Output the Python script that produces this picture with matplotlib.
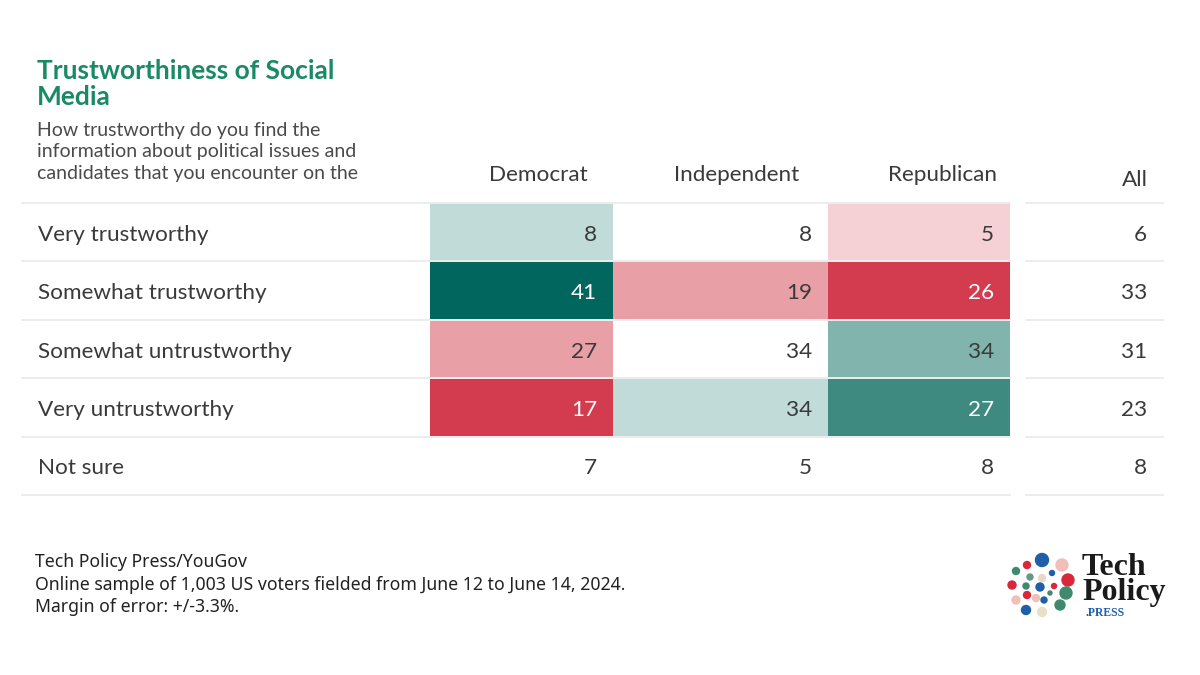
import matplotlib.pyplot as plt
from matplotlib.patches import Circle

# Data
rows = ['Very trustworthy', 'Somewhat trustworthy', 'Somewhat untrustworthy',
        'Very untrustworthy', 'Not sure']
parties = ['Democrat', 'Independent', 'Republican']
democrat = [8, 41, 27, 17, 7]
independent = [8, 19, 34, 34, 5]
republican = [5, 26, 34, 27, 8]
all_voters = [6, 33, 31, 23, 8]

# cell shading (relative to All), one entry per row
shade_dem = ['lteal', 'dteal', 'lpink', 'red', None]
shade_ind = [None, 'lpink', None, 'lteal', None]
shade_rep = ['ppink', 'red', 'mteal', 'teal', None]

palette = {
    'lteal': '#c0dbd8', 'mteal': '#80b4ad', 'teal': '#3f8a80', 'dteal': '#00665e',
    'ppink': '#f5d0d5', 'lpink': '#e8a0a6', 'red': '#d33c4e',
}
white_text = {'dteal', 'teal', 'red'}

title = 'Trustworthiness of Social\nMedia'
subtitle = ('How trustworthy do you find the\n'
            'information about political issues and\n'
            'candidates that you encounter on the')
footer = ('Tech Policy Press/YouGov\n'
          'Online sample of 1,003 US voters fielded from June 12 to June 14, 2024.\n'
          'Margin of error: +/-3.3%.')

# Layout (pixels)
TXT = '#3a3a3a'
GREEN = '#1a8a64'
col_left = [430, 613, 828]
col_width = [183, 215, 182]
head_x = [538, 737, 943]
top = 203
row_h = 58.4
FS = 16.2

fig = plt.figure(figsize=(12, 6.75), dpi=100)
ax = fig.add_axes([0, 0, 1, 1])
ax.set_xlim(0, 1200)
ax.set_ylim(675, 0)
ax.axis('off')

ax.text(37, 59, title, color=GREEN, fontsize=19, fontfamily='Lato',
        fontweight='bold', va='top', linespacing=1.12)
ax.text(37, 122, subtitle, color='#4a4a4a', fontsize=14, fontfamily='Lato',
        va='top', linespacing=1.32)

# grid lines
for i in range(len(rows) + 1):
    y = top + i * row_h
    ax.plot([22, 1010], [y, y], color='#e9e9e9', lw=1.2, zorder=1)
    ax.plot([1026, 1163], [y, y], color='#e9e9e9', lw=1.2, zorder=1)

centers = [top + row_h * (i + 0.5) for i in range(len(rows))]

for j, (vals, shades) in enumerate(zip([democrat, independent, republican],
                                       [shade_dem, shade_ind, shade_rep])):
    colors = [palette[s] if s else 'none' for s in shades]
    ax.barh(centers, col_width[j], left=col_left[j], height=row_h - 2,
            color=colors, zorder=2)
    ax.text(head_x[j], 175, parties[j], ha='center', va='center', fontsize=FS,
            color=TXT, fontfamily='Lato')
    for y, v, s in zip(centers, vals, shades):
        c = 'white' if s in white_text else TXT
        ax.text(col_left[j] + col_width[j] - 16, y + 2.5, str(v), ha='right',
                va='center', fontsize=FS, color=c, fontfamily='Lato', zorder=3)

ax.text(1148, 180, 'All', ha='right', va='center', fontsize=FS, color=TXT,
        fontfamily='Lato')
for y, v, lab in zip(centers, all_voters, rows):
    ax.text(1147, y + 2.5, str(v), ha='right', va='center', fontsize=FS, color=TXT,
            fontfamily='Lato')
    ax.text(38, y + 2.5, lab, ha='left', va='center', fontsize=FS, color=TXT,
            fontfamily='Lato')

ax.text(35, 553, footer, color='#222222', fontsize=12.7, fontfamily='Noto Sans',
        va='top', linespacing=1.33)

# logo
dots = [(1042, 560, 6.5, '#1f5fa8'), (1062, 565, 6, '#f0c0b8'), (1027, 565, 3.5, '#d8283a'),
        (1016, 571, 3.5, '#3f8a6e'), (1030, 577, 3, '#5f9a88'), (1042, 578, 3.5, '#e8d8c8'),
        (1052, 573, 2.5, '#1f5fa8'), (1068, 580, 6, '#d8283a'), (1012, 585, 4, '#d8283a'),
        (1026, 586, 3, '#3f8a6e'), (1040, 587, 4, '#1f5fa8'), (1054, 586, 2.5, '#d8283a'),
        (1027, 595, 3.5, '#d8283a'), (1050, 593, 2, '#3f8a6e'), (1066, 593, 6, '#3f8a6e'),
        (1036, 598, 3.5, '#f0c0b8'), (1016, 600, 4, '#f0c0b8'), (1044, 600, 3, '#1f5fa8'),
        (1060, 605, 5, '#3f8a6e'), (1026, 610, 4.5, '#1f5fa8'), (1042, 612, 4.5, '#e8e0c8')]
for x, y, r, c in dots:
    ax.add_patch(Circle((x, y), r, color=c, zorder=3))
ax.text(1082, 580, 'Tech\nPolicy', ha='left', va='center', fontsize=23,
        fontweight='bold', fontfamily='Liberation Serif', color='#1a1a1a',
        linespacing=0.82)
ax.text(1086, 613, '.PRESS', ha='left', va='center', fontsize=8.5, fontweight='bold',
        fontfamily='Liberation Serif', color='#1f5fa8')

fig.savefig('out.png', dpi=100)
